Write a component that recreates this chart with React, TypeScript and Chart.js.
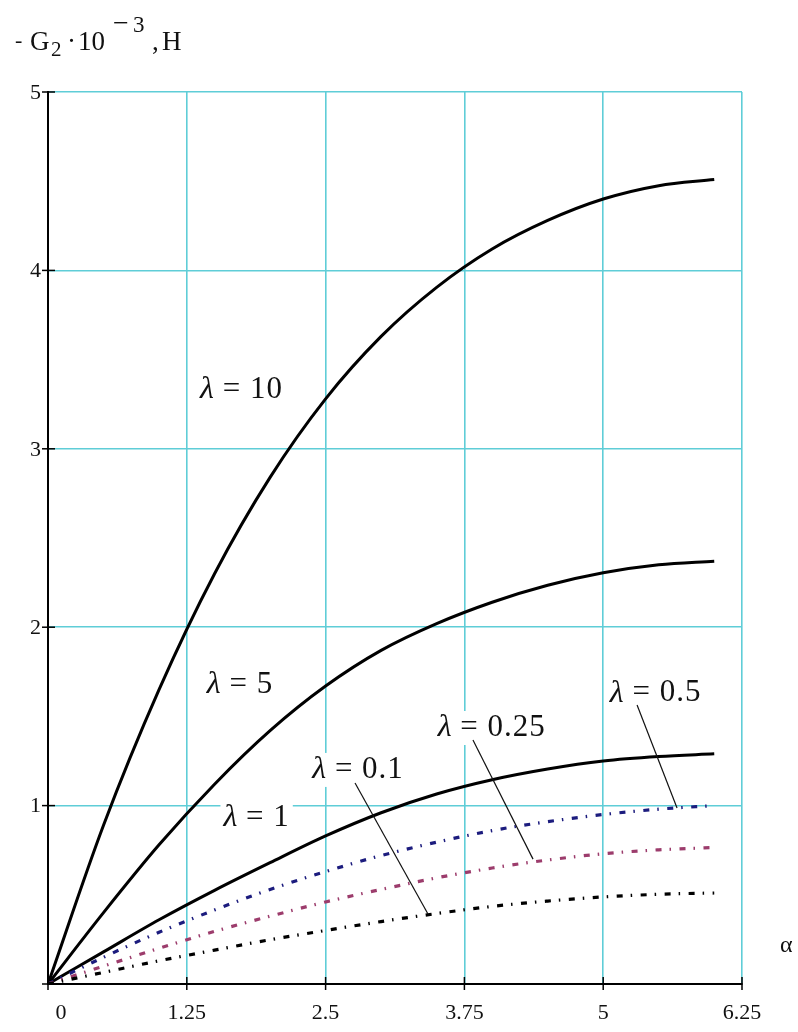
import React, { useEffect, useRef } from "react";
import { Chart, registerables } from "chart.js";

Chart.register(...registerables);

// α values at which the force was evaluated
const alpha = [0, 0.5, 1, 1.5, 2, 2.5, 3, 3.5, 4, 4.5, 5, 5.5, 6];

// -G2·10^-3, H for each λ
const gLambda10 = [0, 0.89, 1.65, 2.3, 2.84, 3.28, 3.63, 3.905, 4.12, 4.28, 4.4, 4.475, 4.51];
const gLambda5 = [0, 0.4, 0.78, 1.12, 1.42, 1.67, 1.87, 2.02, 2.14, 2.235, 2.305, 2.35, 2.37];
const gLambda1 = [0, 0.18, 0.36, 0.525, 0.68, 0.83, 0.96, 1.065, 1.145, 1.205, 1.25, 1.275, 1.29];
const gLambda05 = [0, 0.15, 0.29, 0.415, 0.53, 0.63, 0.72, 0.795, 0.86, 0.91, 0.95, 0.98, 1.0];
const gLambda025 = [0, 0.1, 0.2, 0.295, 0.38, 0.46, 0.53, 0.595, 0.65, 0.695, 0.73, 0.752, 0.765];
const gLambda01 = [0, 0.065, 0.13, 0.19, 0.248, 0.3, 0.35, 0.395, 0.435, 0.465, 0.488, 0.503, 0.51];

// axis ticks
const xTicks = [0, 1.25, 2.5, 3.75, 5, 6.25];
const xTickLabels = ["0", "1.25", "2.5", "3.75", "5", "6.25"];
const yTicks = [0, 1, 2, 3, 4, 5];
const yTickLabels = ["", "1", "2", "3", "4", "5"];

// curve labels, anchored in data units (left edge, vertical middle)
const lambdaValues = ["10", "5", "1", "0.1", "0.25", "0.5"];
const labelAlpha = [1.37, 1.43, 1.58, 2.38, 3.51, 5.06];
const labelG = [3.33, 1.676, 0.93, 1.2, 1.435, 1.63];

// leader lines from label to curve: [α0, g0, α1, g1]
const leaders = [
  [2.765, 1.127, 3.422, 0.392],
  [3.827, 1.368, 4.368, 0.7],
  [5.305, 1.564, 5.665, 0.987],
];

const SERIF = '"Liberation Serif", "Times New Roman", serif';
const GRID = "rgb(95, 205, 215)";

const pts = (ys: number[]) => alpha.map((a, i) => ({ x: a, y: ys[i] }));

const decorations = {
  id: "decorations",
  beforeDatasetsDraw(chart: any) {
    const { ctx, scales } = chart;
    const xs = scales.x;
    const ys = scales.y;
    ctx.save();
    ctx.textBaseline = "middle";
    ctx.textAlign = "left";
    lambdaValues.forEach((v, i) => {
      const x = xs.getPixelForValue(labelAlpha[i]);
      const y = ys.getPixelForValue(labelG[i]);
      ctx.font = `italic 32px ${SERIF}`;
      (ctx as any).letterSpacing = "0px";
      const wl = ctx.measureText("λ").width;
      ctx.font = `31px ${SERIF}`;
      (ctx as any).letterSpacing = "1px";
      const rest = " = " + v;
      const wr = ctx.measureText(rest).width;
      ctx.fillStyle = "#fff";
      ctx.fillRect(x - 3, y - 17, wl + wr + 6, 34);
      ctx.fillStyle = "#111";
      ctx.font = `italic 32px ${SERIF}`;
      (ctx as any).letterSpacing = "0px";
      ctx.fillText("λ", x, y);
      ctx.font = `31px ${SERIF}`;
      (ctx as any).letterSpacing = "1px";
      ctx.fillText(rest, x + wl, y);
    });
    (ctx as any).letterSpacing = "0px";
    ctx.restore();
  },
  afterDatasetsDraw(chart: any) {
    const { ctx, scales } = chart;
    ctx.save();
    ctx.strokeStyle = "#111";
    ctx.lineWidth = 1.2;
    leaders.forEach(([a0, g0, a1, g1]) => {
      ctx.beginPath();
      ctx.moveTo(scales.x.getPixelForValue(a0), scales.y.getPixelForValue(g0));
      ctx.lineTo(scales.x.getPixelForValue(a1), scales.y.getPixelForValue(g1));
      ctx.stroke();
    });
    ctx.restore();
  },
  afterDraw(chart: any) {
    const { ctx, scales, chartArea } = chart;
    const xs = scales.x;
    const ys = scales.y;
    ctx.save();
    // tick marks crossing the axes
    ctx.strokeStyle = "#000";
    ctx.lineWidth = 1.5;
    xTicks.forEach((t) => {
      const x = xs.getPixelForValue(t);
      ctx.beginPath();
      ctx.moveTo(x, chartArea.bottom - 7);
      ctx.lineTo(x, chartArea.bottom + 6);
      ctx.stroke();
    });
    yTicks.forEach((t) => {
      const y = ys.getPixelForValue(t);
      ctx.beginPath();
      ctx.moveTo(chartArea.left - 6, y);
      ctx.lineTo(chartArea.left + 7, y);
      ctx.stroke();
    });
    // tick labels
    ctx.fillStyle = "#111";
    ctx.font = `22px ${SERIF}`;
    ctx.textBaseline = "middle";
    ctx.textAlign = "center";
    xTicks.forEach((t, i) => {
      const x = xs.getPixelForValue(t) + (t === 0 ? 13 : 0);
      ctx.fillText(xTickLabels[i], x, chartArea.bottom + 29);
    });
    ctx.textAlign = "right";
    yTicks.forEach((t, i) => {
      ctx.fillText(yTickLabels[i], chartArea.left - 7, ys.getPixelForValue(t) + 1);
    });
    // axis names
    ctx.font = `24px ${SERIF}`;
    ctx.textAlign = "left";
    ctx.fillText("α", chartArea.right + 38, chartArea.bottom - 38);

    ctx.textBaseline = "alphabetic";
    const base = 50;
    const seg = (txt: string, x: number, size: number, dy: number) => {
      ctx.font = `${size}px ${SERIF}`;
      ctx.fillText(txt, x, base + dy);
    };
    seg("-", 15, 22, -3);
    seg("G", 30, 27, 0);
    seg("2", 51, 21, 6);
    seg("·", 67, 27, 0);
    seg("10", 78, 27, 0);
    seg("−", 113, 28, -18);
    seg("3", 133, 23, -18);
    seg(",", 152, 27, 0);
    seg("H", 162, 27, 0);
    ctx.restore();
  },
};

export default function App() {
  const ref = useRef<HTMLCanvasElement | null>(null);

  useEffect(() => {
    document.body.style.margin = "0";
    const canvas = ref.current;
    if (!canvas) return;
    const dashDot = [6, 8, 1.5, 8.5];
    const chart = new Chart(canvas, {
      type: "scatter",
      data: {
        datasets: [
          { label: "λ = 0.1", data: pts(gLambda01), borderColor: "#000", borderDash: dashDot, borderWidth: 3.2 },
          { label: "λ = 0.25", data: pts(gLambda025), borderColor: "#9c3c6c", borderDash: dashDot, borderWidth: 3.2 },
          { label: "λ = 0.5", data: pts(gLambda05), borderColor: "#1c1c7e", borderDash: dashDot, borderWidth: 3.2 },
          { label: "λ = 1", data: pts(gLambda1), borderColor: "#000", borderWidth: 3 },
          { label: "λ = 5", data: pts(gLambda5), borderColor: "#000", borderWidth: 3 },
          { label: "λ = 10", data: pts(gLambda10), borderColor: "#000", borderWidth: 3 },
        ].map((d) => ({
          ...d,
          showLine: true,
          pointRadius: 0,
          cubicInterpolationMode: "monotone" as const,
          fill: false,
        })),
      },
      options: {
        animation: false,
        responsive: true,
        maintainAspectRatio: false,
        layout: { padding: { top: 92, right: 56, left: 0, bottom: 0 } },
        plugins: { legend: { display: false }, tooltip: { enabled: false } },
        scales: {
          x: {
            type: "linear",
            min: 0,
            max: 6.25,
            afterBuildTicks: (s: any) => {
              s.ticks = xTicks.map((v) => ({ value: v }));
            },
            afterFit: (s: any) => {
              s.height = 48;
            },
            ticks: { display: false },
            grid: { color: GRID, lineWidth: 1.6, drawTicks: false },
            border: { color: "#000", width: 2 },
          },
          y: {
            type: "linear",
            min: 0,
            max: 5,
            afterBuildTicks: (s: any) => {
              s.ticks = yTicks.map((v) => ({ value: v }));
            },
            afterFit: (s: any) => {
              s.width = 48;
            },
            ticks: { display: false },
            grid: { color: GRID, lineWidth: 1.6, drawTicks: false },
            border: { color: "#000", width: 2 },
          },
        },
      },
      plugins: [decorations],
    });
    return () => chart.destroy();
  }, []);

  return (
    <div style={{ position: "relative", width: 798, height: 1032, background: "#fff" }}>
      <canvas ref={ref} />
    </div>
  );
}
